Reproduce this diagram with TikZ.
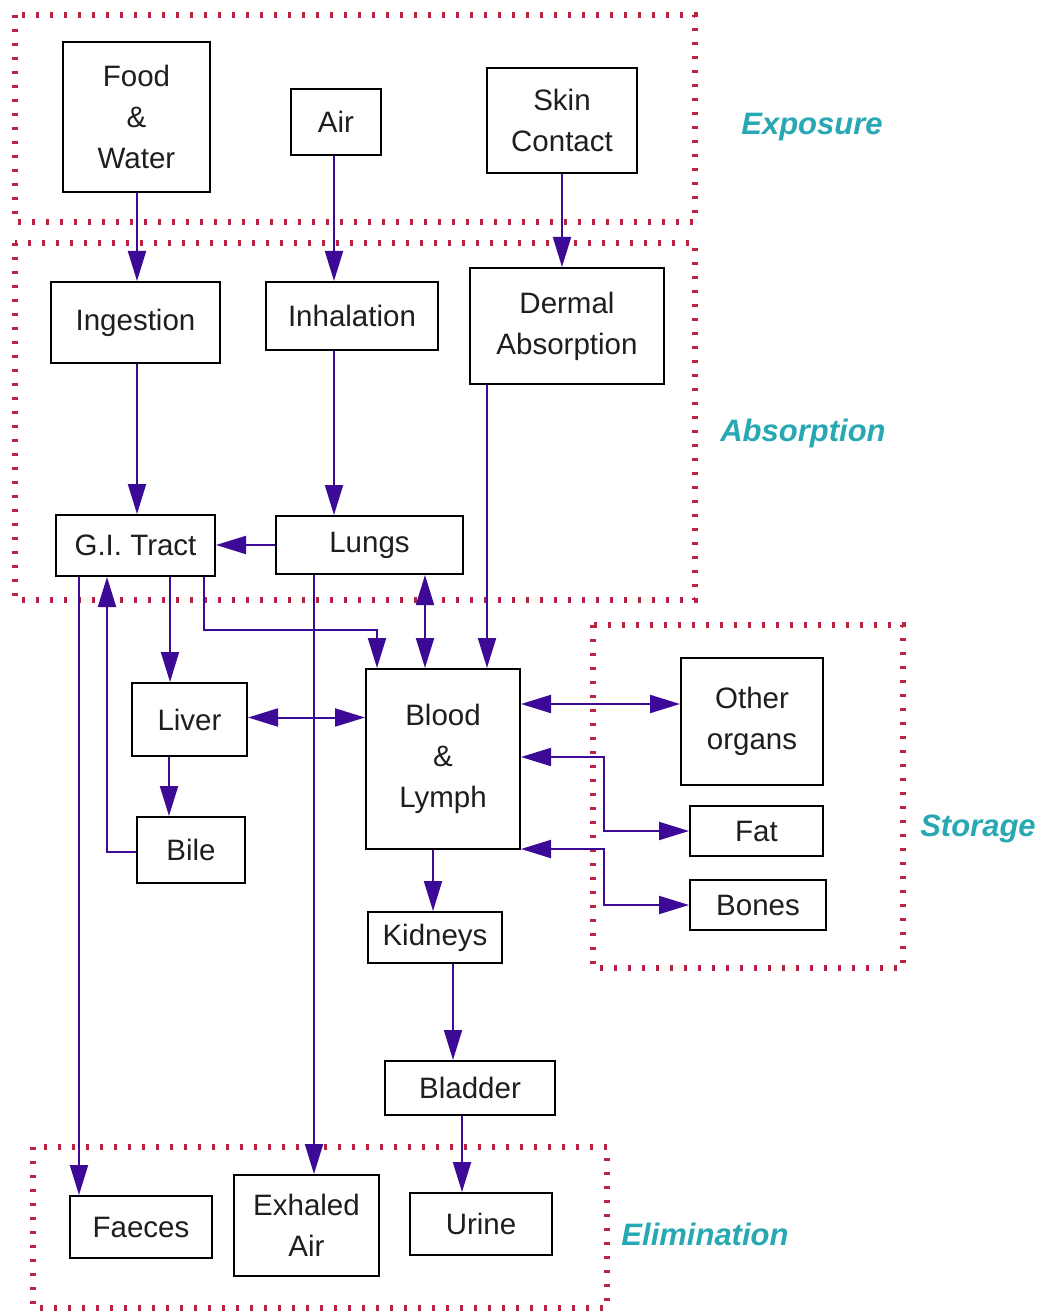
\documentclass[tikz,border=0pt]{standalone}
\usepackage{fontspec}
\setmainfont{Liberation Sans}
\usetikzlibrary{arrows.meta}
\definecolor{arrcol}{RGB}{60,10,150}
\definecolor{dotcol}{RGB}{185,35,65}
\definecolor{labcol}{RGB}{40,168,178}
\definecolor{txtcol}{RGB}{30,30,30}
\tikzset{
  box/.style={draw=black, line width=2pt, inner sep=0pt, align=center, text=txtcol,
    font=\fontsize{29.5}{41}\selectfont},
  arr/.style={draw=arrcol, line width=2pt, -{Triangle[length=30pt,width=18pt]}},
  darr/.style={draw=arrcol, line width=2pt, {Triangle[length=30pt,width=18pt]}-{Triangle[length=30pt,width=18pt]}},
  region/.style={draw=dotcol, line width=6pt, dash pattern=on 3pt off 11pt},
  reglab/.style={text=labcol, font=\fontsize{31}{36}\selectfont\bfseries\itshape}
}
\begin{document}
\begin{tikzpicture}[x=1pt,y=-1pt]
\path[use as bounding box, fill=white] (0,0) rectangle (1043,1313);
% regions
\draw[region] (15,15) rectangle (695,222);
\draw[region] (15,243) rectangle (695,600);
\draw[region] (593,625) rectangle (903,968);
\draw[region] (33,1147) rectangle (607,1308);
\node[reglab] (lexp) at (812,127) {Exposure};
\node[reglab] (labs) at (803,433) {Absorption};
\node[reglab] (lsto) at (978,829) {Storage};
\node[reglab] (lelim) at (705,1234) {Elimination};
% boxes
\node[box, minimum width=147pt, minimum height=150pt] (food) at (136.5,117) {Food\\\&\\Water};
\node[box, minimum width=90pt, minimum height=66pt] (air) at (336,122) {Air};
\node[box, minimum width=150pt, minimum height=105pt] (skin) at (562,120.5) {Skin\\Contact};
\node[box, minimum width=169pt, minimum height=81pt] (ing) at (135.5,322.5) {Ingestion};
\node[box, minimum width=172pt, minimum height=68pt] (inh) at (352,316) {Inhalation};
\node[box, minimum width=194pt, minimum height=116pt] (derm) at (567,326) {Dermal\\Absorption};
\node[box, minimum width=159pt, minimum height=61pt] (gi) at (135.5,545.5) {G.I. Tract};
\node[box, minimum width=187pt, minimum height=58pt] (lungs) at (369.5,545) {Lungs};
\node[box, minimum width=115pt, minimum height=73pt] (liver) at (189.5,719.5) {Liver};
\node[box, minimum width=154pt, minimum height=180pt] (blood) at (443,759) {Blood\\\&\\Lymph};
\node[box, minimum width=108pt, minimum height=66pt] (bile) at (191,850) {Bile};
\node[box, minimum width=142pt, minimum height=127pt] (other) at (752,721.5) {Other\\organs};
\node[box, minimum width=133pt, minimum height=50pt] (fat) at (756.5,831) {Fat};
\node[box, minimum width=136pt, minimum height=50pt] (bones) at (758,905) {Bones};
\node[box, minimum width=134pt, minimum height=51pt] (kid) at (435,937.5) {Kidneys};
\node[box, minimum width=170pt, minimum height=54pt] (blad) at (470,1088) {Bladder};
\node[box, minimum width=142pt, minimum height=62pt] (faeces) at (141,1227) {Faeces};
\node[box, minimum width=145pt, minimum height=101pt] (exh) at (306.5,1225.5) {Exhaled\\Air};
\node[box, minimum width=142pt, minimum height=62pt] (urine) at (481,1224) {Urine};
% connectors
\draw[arr] ([xshift=0.5pt]food.south) -- ([xshift=0.5pt]food.south |- ing.north);
\draw[arr] ([xshift=-2pt]air.south) -- ([xshift=-2pt]air.south |- inh.north);
\draw[arr] (skin.south) -- (skin.south |- derm.north);
\draw[arr] ([xshift=1.5pt]ing.south) -- ([xshift=1.5pt]ing.south |- gi.north);
\draw[arr] ([xshift=-18pt]inh.south) -- ([xshift=-18pt]inh.south |- lungs.north);
\draw[arr] ([xshift=18pt]derm.south west) -- ([xshift=18pt]derm.south west |- blood.north);
\draw[arr] (lungs.west) -- (lungs.west -| gi.east);
\draw[darr] ([xshift=55.5pt]lungs.south) -- ([xshift=55.5pt]lungs.south |- blood.north);
\draw[arr] ([xshift=-12pt]gi.south east) -- ++(0,53) -| ([xshift=12pt]blood.north west);
\draw[arr] ([xshift=34.5pt]gi.south) -- ([xshift=34.5pt]gi.south |- liver.north);
\draw[darr] ([yshift=2pt]liver.east) -- ([yshift=2pt]liver.east -| blood.west);
\draw[arr] ([xshift=38pt]liver.south west) -- ([xshift=38pt]liver.south west |- bile.north);
\draw[arr] ([yshift=-2pt]bile.west) -| ([xshift=-28.5pt]gi.south);
\draw[arr] ([xshift=24pt]gi.south west) -- ([xshift=24pt]gi.south west |- faeces.north);
\draw[arr] ([xshift=39pt]lungs.south west) -- ([xshift=39pt]lungs.south west |- exh.north);
\draw[darr] ([yshift=-36pt]blood.north east) -- ([yshift=-36pt]blood.north east -| other.west);
\draw[darr] ([yshift=-89pt]blood.north east) -| ([xshift=-85pt]fat.west) -- (fat.west);
\draw[darr] ([yshift=1pt]blood.south east) -| ([xshift=-85pt]bones.west) -- (bones.west);
\draw[arr] ([xshift=-10pt]blood.south) -- ([xshift=-10pt]blood.south |- kid.north);
\draw[arr] ([xshift=18pt]kid.south) -- ([xshift=18pt]kid.south |- blad.north);
\draw[arr] ([xshift=-8pt]blad.south) -- ([xshift=-8pt]blad.south |- urine.north);
\end{tikzpicture}
\end{document}
